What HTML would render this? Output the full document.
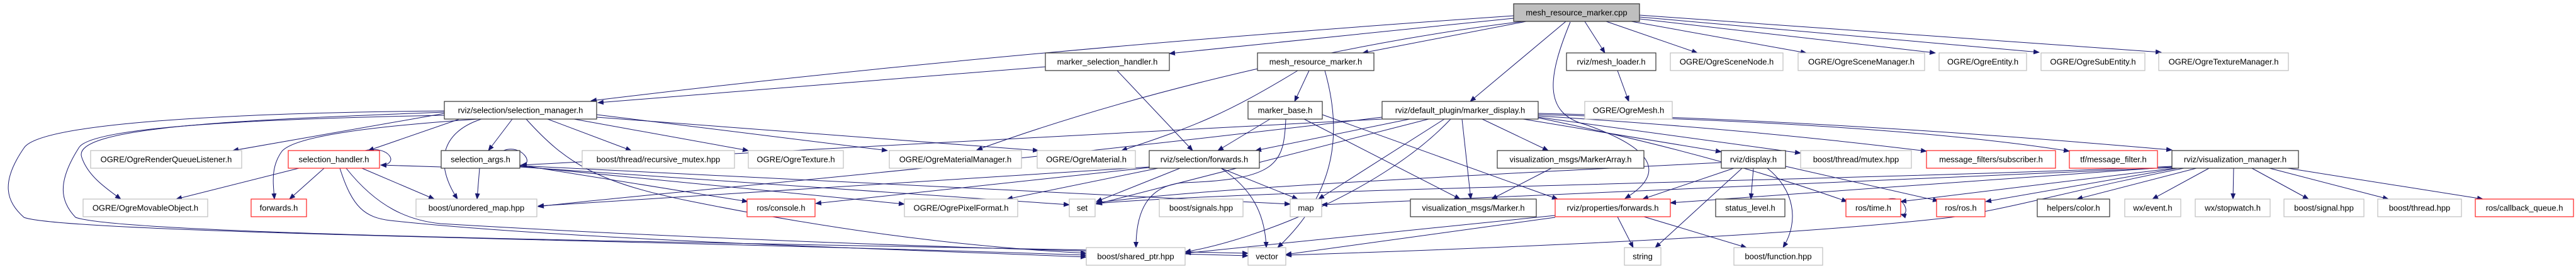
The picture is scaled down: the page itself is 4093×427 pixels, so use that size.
<!DOCTYPE html>
<html><head><meta charset="utf-8"><style>
html,body{margin:0;padding:0;background:#fff;}
svg{display:block;}
text{font-family:"Liberation Sans",sans-serif;font-size:13px;fill:#000;text-anchor:middle;}
.g{fill:#fff;stroke:#bfbfbf;stroke-width:1.2}
.b{fill:#fff;stroke:#333;stroke-width:1.2}
.r{fill:#fff;stroke:#ff2020;stroke-width:1.2}
.e{fill:none;stroke:#191970;stroke-width:1;marker-end:url(#ah)}
</style></head><body>
<svg width="4093" height="427" viewBox="0 0 4093 427" xmlns="http://www.w3.org/2000/svg">
<defs><marker id="ah" markerWidth="10" markerHeight="8" refX="9" refY="4" orient="auto" markerUnits="userSpaceOnUse"><path d="M0,0 L10,4 L0,8 z" fill="#191970"/></marker></defs>
<g>
<!-- edges from cpp -->
<path class="e" d="M2405,25 Q1600,80 939,160"/>
<path class="e" d="M2405,29 L1858,85"/>
<path class="e" d="M2425,34 L2165,84"/>
<path class="e" d="M2420,34 C2200,60 1850,130 1552,238"/>
<path class="e" d="M2488,34 L2336,161"/>
<path class="e" d="M2495,35 C2460,120 2450,180 2520,198 C2640,240 2640,280 2582,315"/>
<path class="e" d="M2518,34 L2550,84"/>
<path class="e" d="M2552,34 L2697,84"/>
<path class="e" d="M2592,34 L2870,84"/>
<path class="e" d="M2605,30 L3075,84"/>
<path class="e" d="M2605,27 L3240,83"/>
<path class="e" d="M2605,24 L3434,83"/>
<!-- marker_selection_handler -->
<path class="e" d="M1661,106 L950,163"/>
<path class="e" d="M1775,112 L1895,239"/>
<!-- mesh_resource_marker.h -->
<path class="e" d="M2080,112 L2057,161"/>
<path class="e" d="M2062,112 C1950,180 1900,200 1782,239"/>
<path class="e" d="M2105,112 C2130,200 2130,300 2030,393"/>
<!-- mesh_loader -->
<path class="e" d="M2570,112 L2588,161"/>
<!-- selection_manager -->
<path class="e" d="M706,180 L370,239"/>
<path class="e" d="M730,189 L585,239"/>
<path class="e" d="M706,178 C400,190 110,200 130,250 C140,280 170,300 192,316"/>
<path class="e" d="M706,176 C300,180 60,200 38,235 C0,290 10,320 38,345 C100,370 1000,380 1726,405"/>
<path class="e" d="M706,183 C350,190 140,205 125,235 C90,290 96,320 120,345 C200,375 1200,385 1983,402"/>
<path class="e" d="M760,189 C600,200 470,215 448,240 C430,265 434,290 436,316"/>
<path class="e" d="M814,189 L776,239"/>
<path class="e" d="M765,189 C700,210 690,260 727,316"/>
<path class="e" d="M870,189 L1003,239"/>
<path class="e" d="M912,189 L1189,239"/>
<path class="e" d="M948,182 L1410,239"/>
<path class="e" d="M948,186 L1650,239"/>
<path class="e" d="M836,189 C900,260 950,290 1100,320 C1300,360 1500,390 1726,402"/>
<!-- selection_args -->
<path class="e" d="M800,239 C830,228 850,262 828,262"/>
<path class="e" d="M762,267 L758,316"/>
<path class="e" d="M826,262 L1188,320"/>
<path class="e" d="M826,265 L1699,325"/>
<path class="e" d="M826,264 L1437,324"/>
<path class="e" d="M826,263 L2050,324"/>
<path class="e" d="M701,265 L605,262"/>
<path class="e" d="M2196,189 C1500,230 900,255 828,262"/>
<!-- selection_handler -->
<path class="e" d="M580,239 C620,230 635,262 605,262"/>
<path class="e" d="M475,267 L280,316"/>
<path class="e" d="M515,267 L460,316"/>
<path class="e" d="M540,267 C560,330 580,345 620,350 C900,380 1400,395 1726,408"/>
<path class="e" d="M550,267 C600,330 650,350 700,355 C1200,385 1700,398 1983,406"/>
<path class="e" d="M575,267 L690,316"/>
<!-- selection/forwards -->
<path class="e" d="M1875,267 L1742,320"/>
<path class="e" d="M1940,267 L2062,316"/>
<path class="e" d="M1940,267 C1990,300 2010,340 2012,393"/>
<path class="e" d="M1840,267 L1600,316"/>
<path class="e" d="M1826,265 L855,327"/>
<path class="e" d="M1826,266 L1296,323"/>
<!-- marker_base -->
<path class="e" d="M2018,189 L1935,239"/>
<path class="e" d="M2043,189 C2040,260 2030,285 1880,290 C1820,295 1805,340 1805,393"/>
<path class="e" d="M2072,189 L2320,316"/>
<path class="e" d="M2101,182 L2475,316"/>
<!-- marker_display -->
<path class="e" d="M2240,189 L1995,239"/>
<path class="e" d="M2270,189 L1742,324"/>
<path class="e" d="M2295,189 L2095,316"/>
<path class="e" d="M2305,189 C2200,300 2000,380 1883,400"/>
<path class="e" d="M2323,189 L2337,316"/>
<path class="e" d="M2355,189 L2460,239"/>
<path class="e" d="M2420,189 L2735,241"/>
<path class="e" d="M2444,186 L2861,243"/>
<path class="e" d="M2444,184 C2700,200 2900,220 3061,240"/>
<path class="e" d="M2444,182 C2800,190 3100,210 3288,240"/>
<path class="e" d="M2444,180 C2900,190 3300,225 3451,238"/>
<path class="e" d="M2444,187 C2700,240 2850,290 2935,320"/>
<path class="e" d="M2196,186 C1500,270 1000,310 855,328"/>
<!-- MarkerArray -->
<path class="e" d="M2465,267 L2370,316"/>
<!-- display -->
<path class="e" d="M2755,267 L2610,316"/>
<path class="e" d="M2768,267 L2630,393"/>
<path class="e" d="M2786,267 L2782,316"/>
<path class="e" d="M2808,267 C2850,300 2860,350 2833,393"/>
<path class="e" d="M2837,264 L3080,319"/>
<path class="e" d="M2735,258 C2300,280 1900,300 1742,322"/>
<!-- properties/forwards -->
<path class="e" d="M2570,344 L2595,393"/>
<path class="e" d="M2612,344 L2775,393"/>
<path class="e" d="M2471,342 L1883,402"/>
<path class="e" d="M2471,345 L2043,404"/>
<!-- visualization_manager -->
<path class="e" d="M3490,267 L3300,316"/>
<path class="e" d="M3510,267 L3420,316"/>
<path class="e" d="M3549,267 L3548,316"/>
<path class="e" d="M3578,267 L3668,316"/>
<path class="e" d="M3606,267 L3795,316"/>
<path class="e" d="M3635,267 L3945,316"/>
<path class="e" d="M3460,267 L3155,320"/>
<path class="e" d="M3455,267 L3020,320"/>
<path class="e" d="M3451,265 L2654,322"/>
<path class="e" d="M3470,267 C3300,300 3200,330 3100,345 C2800,380 2200,400 2043,405"/>
<path class="e" d="M3451,264 C3000,285 2000,300 1742,323"/>
<path class="e" d="M3451,266 L2100,325"/>
<!-- ros/time self -->
<path class="e" d="M3000,316 C3030,310 3035,345 3020,340"/>
</g>
<g>
<rect class="b" x="2405" y="6" width="200" height="28" style="fill:#bfbfbf"/><text x="2505" y="24.5">mesh_resource_marker.cpp</text>
<rect class="b" x="1661" y="84" width="197" height="28"/><text x="1759.5" y="102.5">marker_selection_handler.h</text>
<rect class="b" x="1998" y="84" width="185" height="28"/><text x="2090.5" y="102.5">mesh_resource_marker.h</text>
<rect class="b" x="2489" y="84" width="142" height="28"/><text x="2560" y="102.5">rviz/mesh_loader.h</text>
<rect class="g" x="2654" y="84" width="179" height="28"/><text x="2743.5" y="102.5">OGRE/OgreSceneNode.h</text>
<rect class="g" x="2857" y="84" width="201" height="28"/><text x="2957.5" y="102.5">OGRE/OgreSceneManager.h</text>
<rect class="g" x="3081" y="84" width="139" height="28"/><text x="3150.5" y="102.5">OGRE/OgreEntity.h</text>
<rect class="g" x="3243" y="84" width="165" height="28"/><text x="3325.5" y="102.5">OGRE/OgreSubEntity.h</text>
<rect class="g" x="3430" y="84" width="206" height="28"/><text x="3533" y="102.5">OGRE/OgreTextureManager.h</text>
<rect class="b" x="706" y="161" width="242" height="28"/><text x="827" y="179.5">rviz/selection/selection_manager.h</text>
<rect class="b" x="1983" y="161" width="118" height="28"/><text x="2042" y="179.5">marker_base.h</text>
<rect class="b" x="2196" y="161" width="248" height="28"/><text x="2320" y="179.5">rviz/default_plugin/marker_display.h</text>
<rect class="g" x="2518" y="161" width="139" height="28"/><text x="2587.5" y="179.5">OGRE/OgreMesh.h</text>
<rect class="g" x="144" y="239" width="240" height="28"/><text x="264" y="257.5">OGRE/OgreRenderQueueListener.h</text>
<rect class="r" x="458" y="239" width="145" height="28"/><text x="530.5" y="257.5">selection_handler.h</text>
<rect class="b" x="701" y="239" width="125" height="28"/><text x="763.5" y="257.5">selection_args.h</text>
<rect class="g" x="925" y="239" width="242" height="28"/><text x="1046" y="257.5">boost/thread/recursive_mutex.hpp</text>
<rect class="g" x="1189" y="239" width="151" height="28"/><text x="1264.5" y="257.5">OGRE/OgreTexture.h</text>
<rect class="g" x="1413" y="239" width="210" height="28"/><text x="1518" y="257.5">OGRE/OgreMaterialManager.h</text>
<rect class="g" x="1648" y="239" width="156" height="28"/><text x="1726" y="257.5">OGRE/OgreMaterial.h</text>
<rect class="b" x="1826" y="239" width="175" height="28"/><text x="1913.5" y="257.5">rviz/selection/forwards.h</text>
<rect class="b" x="2379" y="239" width="233" height="28"/><text x="2495.5" y="257.5">visualization_msgs/MarkerArray.h</text>
<rect class="b" x="2735" y="239" width="102" height="28"/><text x="2786" y="257.5">rviz/display.h</text>
<rect class="g" x="2861" y="239" width="176" height="28"/><text x="2949" y="257.5">boost/thread/mutex.hpp</text>
<rect class="r" x="3061" y="239" width="205" height="28"/><text x="3163.5" y="257.5">message_filters/subscriber.h</text>
<rect class="r" x="3288" y="239" width="140" height="28"/><text x="3358" y="257.5">tf/message_filter.h</text>
<rect class="b" x="3451" y="239" width="201" height="28"/><text x="3551.5" y="257.5">rviz/visualization_manager.h</text>
<rect class="g" x="132" y="316" width="198" height="28"/><text x="231" y="334.5">OGRE/OgreMovableObject.h</text>
<rect class="r" x="399" y="316" width="88" height="28"/><text x="443" y="334.5">forwards.h</text>
<rect class="g" x="661" y="316" width="192" height="28"/><text x="757" y="334.5">boost/unordered_map.hpp</text>
<rect class="r" x="1187" y="316" width="108" height="28"/><text x="1241" y="334.5">ros/console.h</text>
<rect class="g" x="1437" y="316" width="180" height="28"/><text x="1527" y="334.5">OGRE/OgrePixelFormat.h</text>
<rect class="g" x="1699" y="316" width="41" height="28"/><text x="1719.5" y="334.5">set</text>
<rect class="g" x="1842" y="316" width="133" height="28"/><text x="1908.5" y="334.5">boost/signals.hpp</text>
<rect class="g" x="2050" y="316" width="50" height="28"/><text x="2075" y="334.5">map</text>
<rect class="b" x="2241" y="316" width="200" height="28"/><text x="2341" y="334.5">visualization_msgs/Marker.h</text>
<rect class="r" x="2471" y="316" width="183" height="28"/><text x="2562.5" y="334.5">rviz/properties/forwards.h</text>
<rect class="b" x="2726" y="316" width="110" height="28"/><text x="2781" y="334.5">status_level.h</text>
<rect class="r" x="2933" y="316" width="87" height="28"/><text x="2976.5" y="334.5">ros/time.h</text>
<rect class="r" x="3077" y="316" width="77" height="28"/><text x="3115.5" y="334.5">ros/ros.h</text>
<rect class="b" x="3237" y="316" width="115" height="28"/><text x="3294.5" y="334.5">helpers/color.h</text>
<rect class="g" x="3376" y="316" width="89" height="28"/><text x="3420.5" y="334.5">wx/event.h</text>
<rect class="g" x="3488" y="316" width="119" height="28"/><text x="3547.5" y="334.5">wx/stopwatch.h</text>
<rect class="g" x="3629" y="316" width="127" height="28"/><text x="3692.5" y="334.5">boost/signal.hpp</text>
<rect class="g" x="3778" y="316" width="133" height="28"/><text x="3844.5" y="334.5">boost/thread.hpp</text>
<rect class="r" x="3933" y="316" width="156" height="28"/><text x="4011" y="334.5">ros/callback_queue.h</text>
<rect class="g" x="1726" y="393" width="157" height="28"/><text x="1804.5" y="411.5">boost/shared_ptr.hpp</text>
<rect class="g" x="1983" y="393" width="60" height="28"/><text x="2013" y="411.5">vector</text>
<rect class="g" x="2581" y="393" width="58" height="28"/><text x="2610" y="411.5">string</text>
<rect class="g" x="2755" y="393" width="141" height="28"/><text x="2825.5" y="411.5">boost/function.hpp</text>
</g>
</svg>
</body></html>
